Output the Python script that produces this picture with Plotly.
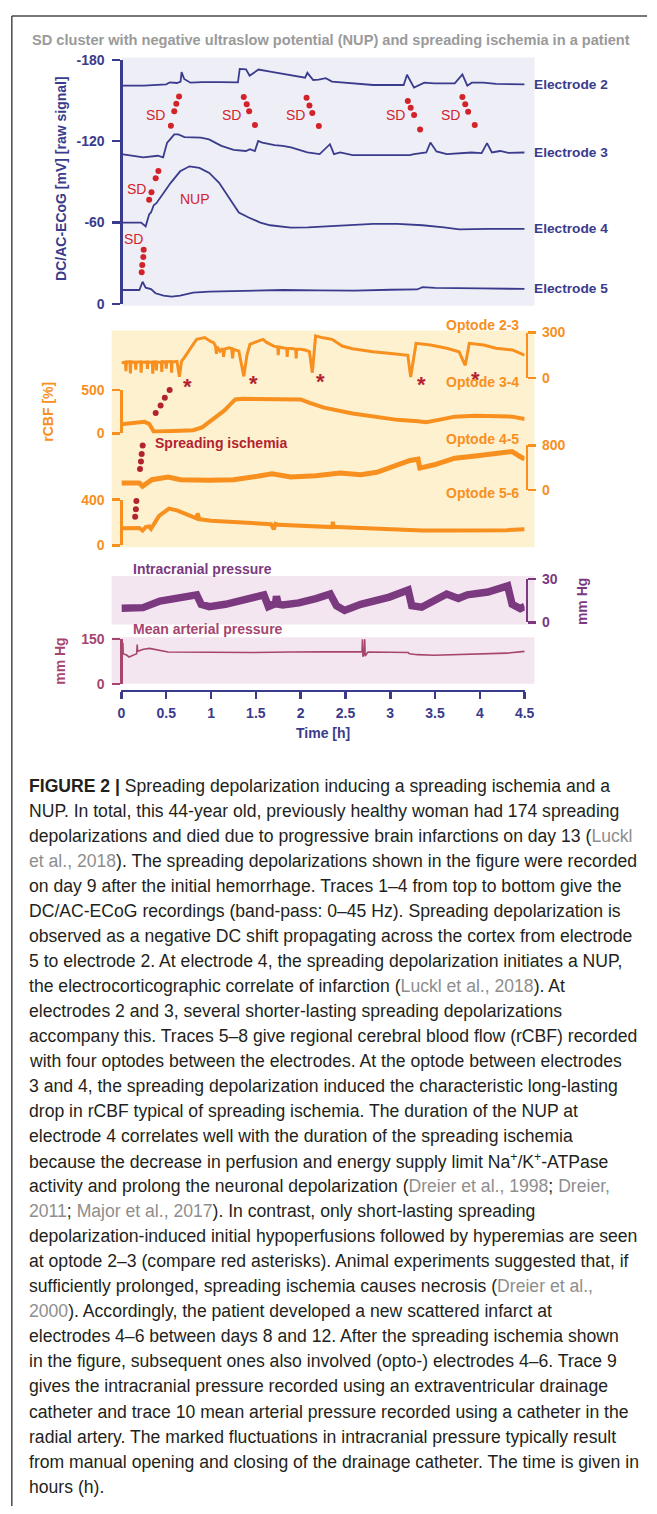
import plotly.graph_objects as go

W, H = 657, 1514

# ------------------------------------------------------------------ data
TIME_TICKS = [0, 0.5, 1, 1.5, 2, 2.5, 3, 3.5, 4, 4.5]
TIME_LABELS = ["0", "0.5", "1", "1.5", "2", "2.5", "3", "3.5", "4", "4.5"]
ECOG_TICKS = [-180, -120, -60, 0]
ECOG_LABELS = ["-180", "-120", "-60", "0"]

# DC/AC-ECoG traces (time h, mV)
electrode2 = [(0, -161), (0.25, -161), (0.5, -162), (0.54, -163.5), (0.62, -163), (0.66, -164),
              (0.671, -171), (0.70, -166), (0.77, -163.2), (0.9, -163.7), (1.1, -163.7), (1.30, -163.5),
              (1.32, -173.4), (1.39, -173), (1.43, -168.3), (1.53, -172.9), (1.66, -171.3), (1.85, -169),
              (2.05, -166.9), (2.075, -170.5), (2.14, -165.2), (2.2, -165.5), (2.28, -166.6), (2.35, -164),
              (2.58, -162.7), (2.81, -161.5), (3.15, -161.5), (3.187, -169.1), (3.265, -159.6), (3.38, -163.2),
              (3.49, -162.7), (3.72, -162.7), (3.805, -169.3), (3.86, -161), (3.91, -163.2), (4.04, -163.2),
              (4.18, -162.3), (4.5, -162)]
electrode3 = [(0, -110.5), (0.108, -109.3), (0.245, -108.1), (0.405, -109.3), (0.465, -108.1), (0.49, -114.2),
              (0.51, -119), (0.543, -121.4), (0.589, -125.1), (0.635, -125.1), (0.703, -123.1), (0.886, -122.7),
              (0.978, -121.4), (1.115, -116.6), (1.252, -113.7), (1.389, -112.8), (1.434, -114.2), (1.489, -112.8),
              (1.526, -120.2), (1.572, -119), (1.709, -117.1), (1.8, -116.6), (1.892, -115.4), (2.075, -111.7),
              (2.212, -110.5), (2.327, -117.8), (2.372, -110.5), (2.441, -111.7), (2.579, -109.8), (3.219, -109.8),
              (3.265, -110.5), (3.402, -111.7), (3.448, -119), (3.516, -112.5), (3.631, -110.5), (3.906, -111.7),
              (4.02, -111.2), (4.08, -118.6), (4.134, -111.7), (4.226, -112.8), (4.318, -111.4), (4.5, -111.7)]
electrode4 = [(0, -60), (0.22, -60), (0.27, -57.2), (0.31, -66.2), (0.33, -67.4), (0.36, -72.8), (0.39, -74.3),
              (0.42, -77.2), (0.47, -81.6), (0.55, -89.3), (0.655, -97.8), (0.76, -101.5), (0.87, -100.3),
              (0.98, -96.6), (1.09, -89.3), (1.2, -78.3), (1.31, -67.4), (1.42, -63.7), (1.55, -60),
              (1.66, -58), (1.89, -56.3), (2.08, -56.5), (2.35, -57.5), (2.6, -58.5), (2.81, -59), (3.08, -59),
              (3.36, -58), (3.6, -56.5), (3.77, -55), (4.1, -55.3), (4.5, -55.4)]
electrode5 = [(0, -10.2), (0.2, -10.2), (0.236, -16.3), (0.27, -11.9), (0.33, -10.9), (0.38, -7.8), (0.47, -6.1),
              (0.56, -5.3), (0.655, -6.1), (0.8, -8.2), (0.98, -9), (1.24, -9.5), (1.5, -9.5), (1.8, -10.2),
              (2.2, -10), (2.6, -9.8), (3.0, -10.4), (3.3, -10.6), (3.36, -12.3), (3.5, -11.8), (4.0, -11.4),
              (4.5, -11)]

# rCBF traces (time h, %)
optode23 = [(0, 100), (0.045, 105), (0.05, 45), (0.055, 105), (0.095, 108), (0.1, 30), (0.105, 106),
            (0.155, 104), (0.16, 55), (0.165, 105), (0.215, 107), (0.22, 35), (0.225, 104), (0.285, 106),
            (0.29, 60), (0.295, 105), (0.345, 104), (0.35, 28), (0.355, 106), (0.385, 107), (0.39, 50),
            (0.395, 105), (0.445, 104), (0.45, 40), (0.455, 108), (0.495, 106), (0.5, 62), (0.505, 107),
            (0.555, 108), (0.56, 35), (0.565, 106), (0.62, 110), (0.647, 9), (0.67, 110), (0.70, 133),
            (0.75, 180), (0.80, 222), (0.84, 255), (0.93, 267), (1.0, 240), (1.03, 233), (1.05, 210),
            (1.06, 160), (1.07, 205), (1.1, 178), (1.13, 195), (1.14, 140), (1.15, 190), (1.2, 200),
            (1.23, 195), (1.24, 130), (1.25, 190), (1.31, 178), (1.366, 11), (1.40, 150), (1.434, 222),
            (1.48, 235), (1.526, 244), (1.58, 255), (1.62, 235), (1.7, 210), (1.745, 205), (1.75, 150),
            (1.755, 205), (1.8, 200), (1.845, 195), (1.85, 140), (1.855, 195), (1.9, 195), (1.945, 190),
            (1.95, 130), (1.955, 190), (2.0, 190), (2.05, 185), (2.098, 175), (2.13, 35), (2.167, 278),
            (2.25, 265), (2.35, 255), (2.42, 225), (2.464, 211), (2.579, 193), (2.808, 173), (3.036, 160),
            (3.196, 150), (3.228, 7), (3.288, 229), (3.448, 218), (3.631, 196), (3.768, 173), (3.837, 84),
            (3.882, 229), (4.043, 218), (4.18, 196), (4.363, 185), (4.5, 151)]
optode34 = [(0, 106), (0.255, 133), (0.31, 110), (0.36, 22), (0.5, 25), (0.8, 37), (0.9, 70), (0.98, 133),
            (1.07, 195), (1.15, 265), (1.22, 340), (1.27, 390), (1.35, 398), (1.6, 395), (1.85, 393),
            (2.0, 390), (2.1, 350), (2.26, 296), (2.58, 230), (2.81, 193), (3.08, 156), (3.31, 141),
            (3.40, 130), (3.54, 156), (3.72, 193), (3.95, 204), (4.18, 204), (4.36, 193), (4.5, 167)]
optode45 = [(0, 124), (0.2, 124), (0.236, 66), (0.34, 183), (0.52, 231), (0.66, 183), (0.98, 172),
            (1.25, 183), (1.52, 244), (1.68, 290), (1.89, 231), (2.17, 254), (2.44, 302), (2.67, 272),
            (2.85, 315), (3.03, 421), (3.22, 528), (3.31, 551), (3.33, 391), (3.49, 450), (3.72, 569),
            (3.95, 610), (4.18, 645), (4.36, 688), (4.45, 599), (4.5, 551)]
optode56 = [(0, 150), (0.2, 152), (0.236, 130), (0.27, 160), (0.31, 165), (0.33, 145), (0.42, 258),
            (0.53, 322), (0.62, 307), (0.73, 272), (0.84, 236), (0.85, 280), (0.86, 232), (0.87, 229),
            (1.0, 215), (1.24, 206), (1.5, 195), (1.67, 185), (1.7, 140), (1.72, 188), (1.75, 180),
            (2.0, 170), (2.35, 160), (2.36, 205), (2.37, 162), (2.6, 155), (2.81, 148), (3.1, 140),
            (3.36, 130), (3.7, 130), (3.95, 128), (4.3, 133), (4.5, 140)]

# pressures (time h, mm Hg)
icp = [(0, 9.8), (0.24, 10.2), (0.43, 14.7), (0.6, 16), (0.8, 18.4), (0.84, 19), (0.89, 12.5), (0.98, 10.9),
       (1.16, 12.5), (1.43, 16), (1.59, 19), (1.64, 11), (1.72, 13), (1.73, 18), (1.75, 12.5), (1.8, 12),
       (1.98, 13.5), (2.17, 16.4), (2.33, 19.6), (2.4, 11.5), (2.49, 8.3), (2.67, 12.5), (2.99, 17.5),
       (3.2, 22.3), (3.24, 11.5), (3.35, 10.5), (3.63, 19.6), (3.76, 16.5), (3.86, 19), (4.09, 21),
       (4.31, 25.2), (4.36, 12.5), (4.45, 9.5), (4.5, 11)]
mabp = [(0, 104), (0.012, 104), (0.016, 137), (0.02, 100), (0.062, 95), (0.085, 89), (0.153, 98), (0.17, 100),
        (0.176, 131), (0.18, 108), (0.245, 115), (0.314, 118), (0.52, 106), (0.98, 104), (1.43, 104),
        (1.89, 106), (2.35, 108), (2.66, 107), (2.685, 107), (2.69, 148), (2.695, 90), (2.71, 107),
        (2.715, 148), (2.72, 92), (2.75, 106), (3.0, 105), (3.2, 104), (3.215, 100), (3.3, 97), (3.49, 95),
        (3.95, 98), (4.3, 102), (4.5, 108)]

# SD propagation dots (time h, mV on ECoG scale)
sd_dots = [[(0.552, -131.4), (0.589, -142.2), (0.612, -147.7), (0.643, -153.1)],
           [(1.365, -152.6), (1.398, -147.3), (1.425, -142.2), (1.49, -132)],
           [(2.066, -152.1), (2.098, -146.3), (2.13, -140.9), (2.203, -131.2)],
           [(3.196, -149.7), (3.228, -144.8), (3.266, -139.3), (3.333, -128.7)],
           [(3.805, -152.6), (3.837, -147.3), (3.869, -141.7), (3.943, -132)],
           [(0.309, -76.9), (0.335, -82.3), (0.382, -92.7), (0.412, -98)],
           [(0.226, -23.4), (0.232, -28.7), (0.244, -34.5), (0.248, -39.9)]]
cbf_dots_34 = [(0.538, 500), (0.484, 409), (0.437, 322), (0.382, 236)]
cbf_dots_45 = [(0.237, 795), (0.226, 645), (0.218, 510), (0.207, 373)]
cbf_dots_56 = [(0.175, 461), (0.167, 389), (0.161, 316), (0.153, 250)]
asterisk_times = [0.732, 1.474, 2.217, 3.353, 3.954]

# ------------------------------------------------------------------ styles
NAVY = "#3A3B8C"
ORANGE = "#F7901E"
RED = "#D2232A"
DARKRED = "#B3232F"
PURPLE = "#7B3A7F"
RASP = "#A6456F"
TITLEGRAY = "#9A9A9A"
CITE = "#8E8E8E"
TEXT = "#231F20"
FONT = "Liberation Sans, Arial, sans-serif"
ASTERISK_Y_PX = [383, 380, 377, 381, 375]


def fx(px):
    return px / W


def fy(py):
    return 1 - py / H


def dom(top, bottom):
    return [fy(bottom), fy(top)]


def xy(pairs):
    return [p[0] for p in pairs], [p[1] for p in pairs]


fig = go.Figure()


def add_line(pairs, axis, color, width):
    t, v = xy(pairs)
    fig.add_trace(go.Scatter(x=t, y=v, xaxis="x", yaxis=axis, mode="lines",
                             line=dict(color=color, width=width), hoverinfo="skip",
                             showlegend=False))


def add_dots(pairs, axis, color, size=6):
    t, v = xy(pairs)
    fig.add_trace(go.Scatter(x=t, y=v, xaxis="x", yaxis=axis, mode="markers",
                             marker=dict(color=color, size=size), cliponaxis=False,
                             hoverinfo="skip", showlegend=False))


for tr in (electrode2, electrode3, electrode4, electrode5):
    add_line(tr, "y", NAVY, 1.8)
for d in sd_dots:
    add_dots(d, "y", RED)

add_line(optode23, "y2", ORANGE, 3)
add_line(optode34, "y3", ORANGE, 4)
add_line(optode45, "y4", ORANGE, 5)
add_line(optode56, "y5", ORANGE, 4)
add_dots(cbf_dots_34, "y3", DARKRED)
add_dots(cbf_dots_45, "y4", DARKRED)
add_dots(cbf_dots_56, "y5", DARKRED)

add_line(icp, "y6", PURPLE, 7.5)
add_line(mabp, "y7", RASP, 1.6)


def yax(domain, rng, color, side, tickvals, ticktext, pos):
    return dict(domain=domain, range=rng, anchor="free", position=pos, side=side,
                showline=True, linecolor=color, linewidth=2.5, ticks="outside", ticklen=8,
                tickwidth=2.5, tickcolor=color, tickvals=tickvals, ticktext=ticktext,
                tickfont=dict(size=14, color=color, family=FONT, weight="bold"),
                ticklabelstandoff=5 if side == "left" else 3,
                showgrid=False, zeroline=False, fixedrange=True)


LEFT, RIGHT = fx(120), fx(534)
layout_axes = dict(
    xaxis=dict(domain=[fx(120), fx(532)], range=[0, 4.5], anchor="free", position=fy(690),
               showline=True, linecolor=NAVY, linewidth=2.5, ticks="outside", ticklen=7,
               tickwidth=2.5, tickcolor=NAVY, tickvals=TIME_TICKS, ticktext=TIME_LABELS,
               tickfont=dict(size=14, color=NAVY, family=FONT, weight="bold"),
               ticklabelstandoff=2, showgrid=False, zeroline=False, fixedrange=True),
    yaxis=yax(dom(52.5, 299), [0, -180], NAVY, "left", ECOG_TICKS, ECOG_LABELS, LEFT),
    yaxis2=yax(dom(328, 374), [0, 300], ORANGE, "right", [0, 300], ["0", "300"], RIGHT),
    yaxis3=yax(dom(386, 430), [0, 500], ORANGE, "left", [0, 500], ["0", "500"], LEFT),
    yaxis4=yax(dom(442, 487), [0, 800], ORANGE, "right", [0, 800], ["0", "800"], RIGHT),
    yaxis5=yax(dom(497, 543), [0, 400], ORANGE, "left", [0, 400], ["0", "400"], LEFT),
    yaxis6=yax(dom(577, 621), [0, 30], PURPLE, "right", [0, 30], ["0", "30"], RIGHT),
    yaxis7=yax(dom(637.5, 683), [0, 150], RASP, "left", [0, 150], ["0", "150"], LEFT),
)

shapes = []


def rect(x0, y0, x1, y1, color):
    shapes.append(dict(type="rect", xref="paper", yref="paper", x0=fx(x0), x1=fx(x1),
                       y0=fy(y1), y1=fy(y0), fillcolor=color, line=dict(width=0), layer="below"))


rect(120, 50, 542, 301, "#EEEEF7")
rect(110, 326, 542, 545, "#FEF1D0")
rect(110, 574, 542, 623, "#F4E6F0")
rect(110, 636, 542, 683, "#F4E6F0")
shapes.append(dict(type="line", xref="paper", yref="paper", x0=fx(8), x1=1, y0=fy(8), y1=fy(8),
                   line=dict(color="#4A4A4A", width=1.5)))
shapes.append(dict(type="line", xref="paper", yref="paper", x0=fx(8), x1=fx(8), y0=0, y1=fy(8),
                   line=dict(color="#4A4A4A", width=1.5)))

ann = []


def text(x, y, s, color, size=14, xanchor="center", angle=0, bold=True):
    ann.append(dict(x=fx(x), y=fy(y), xref="paper", yref="paper", text=s, showarrow=False,
                    xanchor=xanchor, yanchor="middle", textangle=angle,
                    font=dict(family=FONT, size=size, color=color,
                              weight="bold" if bold else "normal")))


text(334, 32, "SD cluster with negative ultraslow potential (NUP) and spreading ischemia in a patient",
     TITLEGRAY, 14.6)
text(58, 172, "DC/AC-ECoG [mV] [raw signal]", NAVY, 14, angle=-90)
for name, tr in (("Electrode 2", electrode2), ("Electrode 3", electrode3),
                 ("Electrode 4", electrode4), ("Electrode 5", electrode5)):
    ann.append(dict(x=fx(540), xref="paper", y=tr[-1][1], yref="y", text=name, showarrow=False,
                    xanchor="left", yanchor="middle",
                    font=dict(family=FONT, size=13.7, color=NAVY, weight="bold")))
for x in (155, 232.5, 297.4, 400, 456.6):
    text(x, 108.3, "SD", RED, 14, bold=False)
text(135, 182.7, "SD", RED, 14, bold=False)
text(132.3, 233.3, "SD", RED, 14, bold=False)
text(195, 192.7, "NUP", RED, 14, bold=False)

for t_ast, y_ast in zip(asterisk_times, ASTERISK_Y_PX):
    ann.append(dict(x=t_ast, xref="x", y=fy(y_ast), yref="paper", text="*", showarrow=False,
                    xanchor="center", yanchor="middle",
                    font=dict(family=FONT, size=22, color=DARKRED, weight="bold")))

text(45, 408, "rCBF [%]", ORANGE, 14, angle=-90)
text(528, 320, "Optode 2-3", ORANGE, 14, xanchor="right")
text(528, 378, "Optode 3-4", ORANGE, 14, xanchor="right")
text(528, 436, "Optode 4-5", ORANGE, 14, xanchor="right")
text(528, 490, "Optode 5-6", ORANGE, 14, xanchor="right")
text(152, 440, "Spreading ischemia", DARKRED, 14, xanchor="left")

text(130, 567, "Intracranial pressure", PURPLE, 14, xanchor="left")
text(590, 600, "mm Hg", PURPLE, 14, angle=-90)
text(130, 628, "Mean arterial pressure", RASP, 14, xanchor="left")
text(57, 660, "mm Hg", RASP, 14, angle=-90)
text(326, 733, "Time [h]", NAVY, 14)


def g(s):
    return f"<span style='color:{CITE}'>{s}</span>"


caption = [
    "<b>FIGURE 2 |</b> Spreading depolarization inducing a spreading ischemia and a",
    "NUP. In total, this 44-year old, previously healthy woman had 174 spreading",
    "depolarizations and died due to progressive brain infarctions on day 13 (" + g("Luckl"),
    g("et al., 2018") + "). The spreading depolarizations shown in the figure were recorded",
    "on day 9 after the initial hemorrhage. Traces 1–4 from top to bottom give the",
    "DC/AC-ECoG recordings (band-pass: 0–45 Hz). Spreading depolarization is",
    "observed as a negative DC shift propagating across the cortex from electrode",
    "5 to electrode 2. At electrode 4, the spreading depolarization initiates a NUP,",
    "the electrocorticographic correlate of infarction (" + g("Luckl et al., 2018") + "). At",
    "electrodes 2 and 3, several shorter-lasting spreading depolarizations",
    "accompany this. Traces 5–8 give regional cerebral blood flow (rCBF) recorded",
    "with four optodes between the electrodes. At the optode between electrodes",
    "3 and 4, the spreading depolarization induced the characteristic long-lasting",
    "drop in rCBF typical of spreading ischemia. The duration of the NUP at",
    "electrode 4 correlates well with the duration of the spreading ischemia",
    "because the decrease in perfusion and energy supply limit Na<sup>+</sup>/K<sup>+</sup>-ATPase",
    "activity and prolong the neuronal depolarization (" + g("Dreier et al., 1998") + "; " + g("Dreier,"),
    g("2011") + "; " + g("Major et al., 2017") + "). In contrast, only short-lasting spreading",
    "depolarization-induced initial hypoperfusions followed by hyperemias are seen",
    "at optode 2–3 (compare red asterisks). Animal experiments suggested that, if",
    "sufficiently prolonged, spreading ischemia causes necrosis (" + g("Dreier et al.,"),
    g("2000") + "). Accordingly, the patient developed a new scattered infarct at",
    "electrodes 4–6 between days 8 and 12. After the spreading ischemia shown",
    "in the figure, subsequent ones also involved (opto-) electrodes 4–6. Trace 9",
    "gives the intracranial pressure recorded using an extraventricular drainage",
    "catheter and trace 10 mean arterial pressure recorded using a catheter in the",
    "radial artery. The marked fluctuations in intracranial pressure typically result",
    "from manual opening and closing of the drainage catheter. The time is given in",
    "hours (h).",
]
for i, line in enumerate(caption):
    text(24, 786 + i * 25.3, line, TEXT, 17.6, xanchor="left", bold=False)

fig.update_layout(
    width=W, height=H, autosize=False,
    margin=dict(l=0, r=0, t=0, b=0, pad=0),
    paper_bgcolor="white", plot_bgcolor="rgba(0,0,0,0)",
    font=dict(family=FONT, color=TEXT),
    showlegend=False, hovermode=False,
    shapes=shapes, annotations=ann,
    **layout_axes,
)

fig.write_html("out.html", config={"displayModeBar": False, "staticPlot": True},
               post_script="document.body.style.margin='0px';document.body.style.overflow='hidden';")
